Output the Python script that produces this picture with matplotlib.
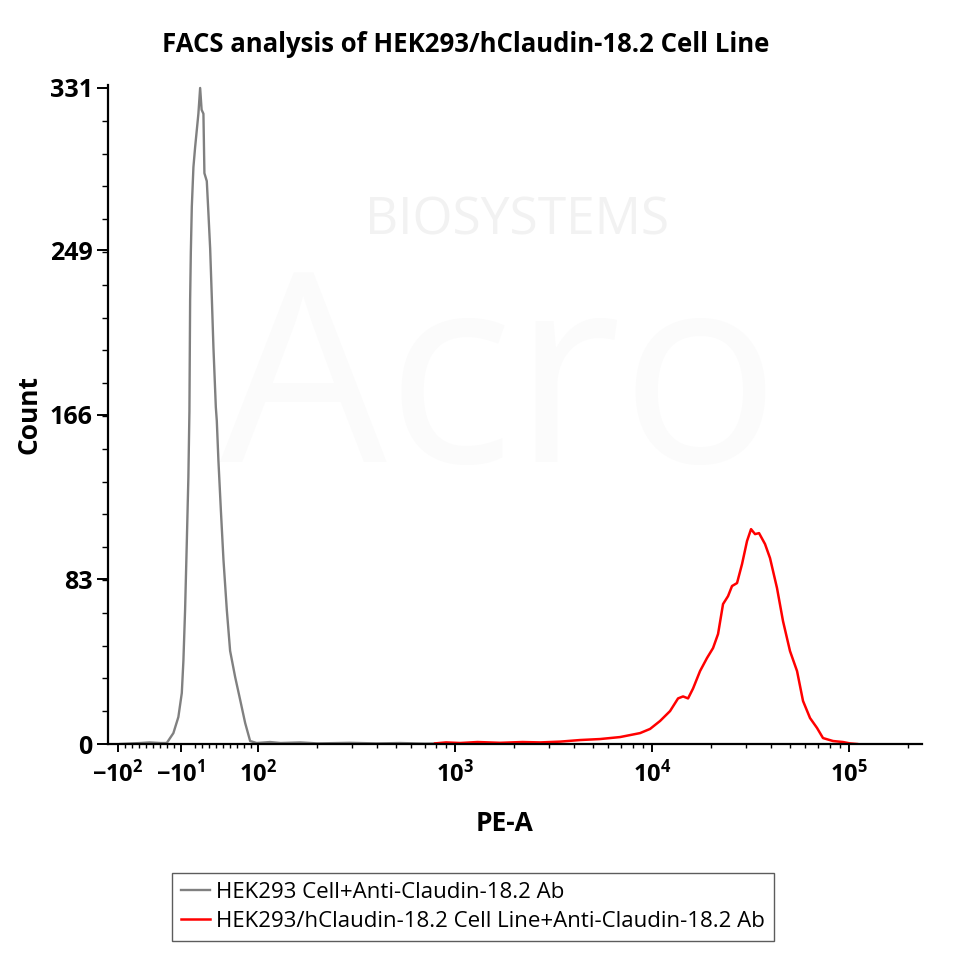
"""
FACS histogram: HEK293 vs HEK293/hClaudin-18.2, PE-A channel
"""
import matplotlib
matplotlib.use("Agg")
import matplotlib.pyplot as plt
from matplotlib.ticker import FixedLocator, NullFormatter

plt.rcParams['font.family'] = ['Open Sans', 'DejaVu Sans']
plt.rcParams['mathtext.fontset'] = 'custom'
plt.rcParams['mathtext.rm'] = 'Open Sans'
plt.rcParams['mathtext.bf'] = 'Open Sans:bold'

# negative control (grey)
grey_x = [-97, -80, -68, -55, -40, -30.5, -21, -13.9, -9, -6.7, -4.3, -1.9, 0.4,
          1.9, 2.9, 3.9, 5.3, 7.6, 10, 14.7, 17.2, 19.3, 21.9, 23.3, 26.7, 29,
          31.5, 33.9, 36.2, 39.6, 41, 43.3, 46.8, 50.5, 55.3, 60, 67.2, 74.4,
          81.5, 88.6, 98, 115, 130, 164, 200, 293, 400, 526, 700, 944, 1300,
          1700, 2140]
grey_count = [0, 0.3, 0.5, 0.8, 0.5, 0.5, 5.5, 13.6, 25.7, 42, 67.6, 101, 134.6,
              168, 224, 248, 271, 291, 301, 318, 331, 320, 318, 288, 284, 268,
              250, 225, 200, 170, 163, 143, 118, 93, 67.6, 47, 33.8, 22.2,
              10.6, 1.5, 0.5, 1.0, 0.5, 0.8, 0.3, 0.6, 0.3, 0.5, 0.2, 0.3, 0.1,
              0.2, 0]

# Claudin-18.2 expressing line (red)
red_x = [792, 900, 1061, 1300, 1693, 2200, 2703, 3415, 4313, 5449, 6884, 8698,
         9777, 10986, 12350, 13563, 14380, 15245, 16164, 17540, 19030, 20417,
         21650, 22950, 24330, 25490, 27030, 28660, 30380, 31840, 33370, 34960,
         37490, 39750, 43130, 46270, 50210, 54520, 58470, 63460, 68860, 73850,
         83040, 93300, 101250, 110000]
red_count = [0.3, 0.8, 0.5, 1.0, 0.6, 1.0, 0.8, 1.2, 2.0, 2.5, 3.5, 5.5,
             7.6, 11.6, 16.6, 23, 24, 23, 28, 36.8, 43.4, 48.4,
             55.5, 70.6, 74.6, 79.7, 81.2, 90.8, 102.4, 108.4, 105.9, 106.4,
             100.9, 93.8, 78.7, 62, 46.9, 36.8, 21.7, 13.1, 8.1, 3,
             1.5, 1, 0.3, 0]

y_ticks = [0, 83, 166, 249, 331]
x_ticks = [-100, -10, 100, 1000, 10000, 100000]
x_ticklabels = [r'$\mathbf{-10^{2}}$', r'$\mathbf{-10^{1}}$', r'$\mathbf{10^{2}}$',
                r'$\mathbf{10^{3}}$', r'$\mathbf{10^{4}}$', r'$\mathbf{10^{5}}$']

fig = plt.figure(figsize=(9.61, 9.65), dpi=100)
ax = fig.add_axes([108 / 961, 1 - 744 / 965, (922 - 108) / 961, (744 - 85) / 965])

# faint logo watermark
fig.text(517 / 961, 1 - 221 / 965, 'BIOSYSTEMS', fontsize=37, color='#f2f2f2',
         ha='center', va='center', zorder=0)
fig.text(500 / 961, 1 - 462 / 965, 'Acro', fontsize=190, color='#fbfbfb',
         ha='center', va='baseline', zorder=0)

ax.patch.set_alpha(0)
ax.plot(grey_x, grey_count, color='#808080', lw=1.7,
        label='HEK293 Cell+Anti-Claudin-18.2 Ab')
ax.plot(red_x, red_count, color='#ff0000', lw=1.8,
        label='HEK293/hClaudin-18.2 Cell Line+Anti-Claudin-18.2 Ab')

ax.set_xscale('symlog', linthresh=100, linscale=0.32)
ax.set_xlim(-112.5, 235000)
ax.set_ylim(0, 332.5)

ax.xaxis.set_major_locator(FixedLocator(x_ticks))
ax.set_xticklabels(x_ticklabels)
minors = [v for v in range(-90, 100, 10) if v not in (-10, 0)]
for d in [100, 1000, 10000, 100000]:
    minors += [m * d for m in range(2, 10)]
ax.xaxis.set_minor_locator(FixedLocator(minors))
ax.xaxis.set_minor_formatter(NullFormatter())

ax.set_yticks(y_ticks)
ax.set_yticklabels([str(v) for v in y_ticks])
ax.yaxis.set_minor_locator(FixedLocator([i * 331 / 20 for i in range(21)]))

for s in ['top', 'right']:
    ax.spines[s].set_visible(False)
for s in ['left', 'bottom']:
    ax.spines[s].set_linewidth(1.6)

ax.tick_params(axis='both', which='major', width=1.4)
ax.tick_params(axis='y', which='major', length=8, pad=3, labelsize=18)
ax.tick_params(axis='y', which='minor', length=4, width=1)
ax.tick_params(axis='x', which='major', length=6, pad=6, labelsize=17)
ax.tick_params(axis='x', which='minor', length=3, width=1)
for lab in ax.get_yticklabels():
    lab.set_fontweight('bold')

ax.set_xlabel('PE-A', fontsize=19, fontweight='bold')
ax.xaxis.set_label_coords((505 - 108) / 814, -(810 - 744) / 659)
ax.set_ylabel('Count', fontsize=19, fontweight='bold')
ax.yaxis.set_label_coords((43 - 108) / 814, (744 - 415) / 659)

fig.text(466 / 961, 1 - 45 / 965, 'FACS analysis of HEK293/hClaudin-18.2 Cell Line',
         fontsize=18.5, fontweight='bold', ha='center', va='center')

leg = fig.legend(loc='upper left', bbox_to_anchor=(172 / 961, 1 - 873 / 965),
                 fontsize=16, frameon=True, fancybox=False, edgecolor='#333333',
                 handlelength=1.3, handletextpad=0.3, labelspacing=0.35,
                 borderpad=0.4, borderaxespad=0)
leg.get_frame().set_linewidth(1)

fig.savefig('out.png', dpi=100)
